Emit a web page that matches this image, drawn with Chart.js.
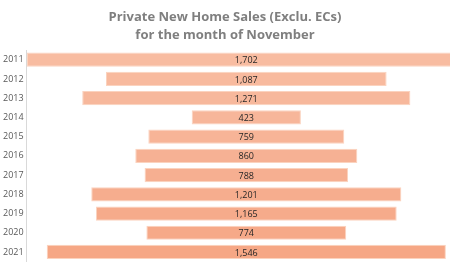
<!DOCTYPE html>
<html>
<head>
<meta charset="utf-8">
<script src="https://cdn.jsdelivr.net/npm/chart.js@4"></script>
<style>
  html, body { margin: 0; padding: 0; background: #fff; }
  #wrap { width: 450px; height: 270px; }
</style>
</head>
<body>
<div id="wrap"><canvas id="salesChart"></canvas></div>
<script>
const years = ['2011', '2012', '2013', '2014', '2015', '2016', '2017', '2018', '2019', '2020', '2021'];
const sales = [1702, 1087, 1271, 423, 759, 860, 788, 1201, 1165, 774, 1546];
const titleLines = ['Private New Home Sales (Exclu. ECs)', 'for the month of November'];

// bars get a little more saturated from top to bottom
const barColors = ['#F8BCA1', '#F8BA9E', '#F7B89C', '#F7B69A', '#F7B497', '#F6B194', '#F6AF91', '#F6AD8E', '#F6AB8B', '#F6A988', '#F6A785'];

// funnel: each bar centred on zero
const spans = sales.map(v => [-v / 2, v / 2]);

const valueLabels = {
    id: 'valueLabels',
    afterDatasetsDraw(chart) {
        const ctx = chart.ctx;
        const meta = chart.getDatasetMeta(0);
        const mid = chart.scales.x.getPixelForValue(0);
        ctx.save();
        ctx.font = '9px "Open Sans", sans-serif';
        ctx.fillStyle = '#262626';
        ctx.textAlign = 'center';
        ctx.textBaseline = 'middle';
        meta.data.forEach((bar, i) => {
            ctx.fillText(sales[i].toLocaleString('en-US'), mid, bar.y + 1);
        });
        ctx.restore();
    }
};

new Chart(document.getElementById('salesChart'), {
    type: 'bar',
    data: {
        labels: years,
        datasets: [{
            data: spans,
            backgroundColor: barColors,
            borderColor: '#FBD3BF',
            borderWidth: 1,
            borderSkipped: false,
            categoryPercentage: 1,
            barPercentage: 0.74
        }]
    },
    options: {
        indexAxis: 'y',
        responsive: true,
        maintainAspectRatio: false,
        animation: false,
        layout: { padding: { left: 0, right: 0, top: 0, bottom: 8 } },
        scales: {
            x: {
                display: false,
                min: -851,
                max: 789
            },
            y: {
                grid: { display: false, drawTicks: false },
                border: { display: true, color: '#D9D9D9' },
                ticks: {
                    color: '#595959',
                    font: { family: '"Open Sans", sans-serif', size: 9 },
                    padding: 3
                }
            }
        },
        plugins: {
            legend: { display: false },
            tooltip: { enabled: false },
            title: {
                display: true,
                text: titleLines,
                color: '#7F7F7F',
                font: { family: '"Open Sans", sans-serif', size: 13, weight: 'bold', lineHeight: 1.35 },
                padding: { top: 9, bottom: 6 }
            }
        }
    },
    plugins: [valueLabels]
});
</script>
</body>
</html>
